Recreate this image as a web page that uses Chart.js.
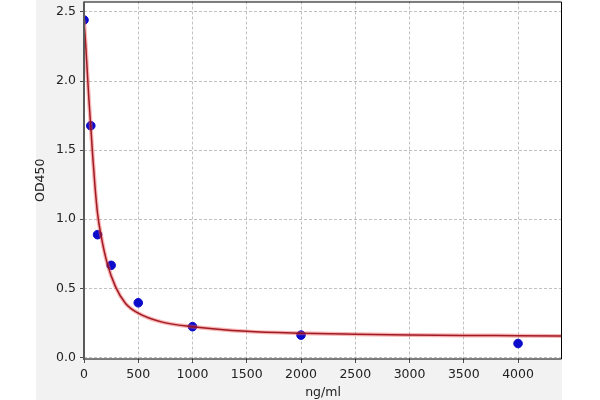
<!DOCTYPE html>
<html>
<head>
<meta charset="utf-8">
<script src="https://cdn.jsdelivr.net/npm/chart.js@4/dist/chart.umd.min.js"></script>
<style>
    html, body { margin: 0; padding: 0; background: #fff; }
    #wrap { width: 600px; height: 400px; }
</style>
</head>
<body>
<div id="wrap"><canvas id="chart" width="600" height="400"></canvas></div>
<script>
// Standards
const concentrations = [0, 62.5, 125, 250, 500, 1000, 2000, 4000];
const odValues = [2.442, 1.677, 0.888, 0.666, 0.395, 0.222, 0.161, 0.100];

// Fitted curve, points
const curveX = [0, 15, 30, 45, 62.5, 80, 100, 125, 160, 214, 291, 383, 500, 721, 1000, 1500, 2000, 2500, 3000, 3500, 4000, 4400];
const curveY = [2.44, 2.27, 2.07, 1.87, 1.67, 1.46, 1.25, 1.04, 0.87, 0.68, 0.51, 0.39, 0.32, 0.255, 0.222, 0.188, 0.174, 0.167, 0.162, 0.159, 0.157, 0.155];

// Axis ticks
const xTicks = [0, 500, 1000, 1500, 2000, 2500, 3000, 3500, 4000];
const yTicks = [0, 0.5, 1.0, 1.5, 2.0, 2.5];

const toPoints = (xs, ys) => xs.map((x, i) => ({ x: x, y: ys[i] }));

const FONT = 'DejaVu Sans';
const GRID = '#b0b0b0';

// Figure background + frame
const framePlugin = {
    id: 'frame',
    beforeDraw(chart) {
        const { ctx, chartArea: a } = chart;
        ctx.save();
        ctx.fillStyle = '#ffffff';
        ctx.fillRect(0, 0, chart.width, chart.height);
        ctx.fillStyle = '#f2f2f2';
        ctx.fillRect(36, 0, a.right - 36, chart.height);
        ctx.fillStyle = '#ffffff';
        ctx.fillRect(a.left, a.top, a.right - a.left, a.bottom - a.top);
        ctx.restore();
    },
    afterDraw(chart) {
        const { ctx, chartArea: a } = chart;
        ctx.save();
        ctx.strokeStyle = '#000';
        ctx.lineWidth = 1;
        ctx.beginPath();
        ctx.moveTo(a.left, a.top + 0.5);
        ctx.lineTo(a.right - 0.5, a.top + 0.5);
        ctx.lineTo(a.right - 0.5, a.bottom);
        ctx.lineTo(a.left, a.bottom);
        ctx.stroke();
        ctx.strokeStyle = '#5a5a5a';
        ctx.lineWidth = 2;
        ctx.beginPath();
        ctx.moveTo(a.left, a.top);
        ctx.lineTo(a.left, a.bottom + 1);
        ctx.stroke();
        ctx.restore();
    }
};

new Chart(document.getElementById('chart'), {
    type: 'scatter',
    data: {
        datasets: [{
            // thin dark-red core of the fit
            data: toPoints(curveX, curveY),
            showLine: true,
            borderColor: 'rgba(150, 10, 20, 0.9)',
            borderWidth: 1.5,
            pointRadius: 0,
            cubicInterpolationMode: 'monotone',
            order: 0
        }, {
            // pink halo around the fit
            data: toPoints(curveX, curveY),
            showLine: true,
            borderColor: 'rgba(240, 90, 90, 0.45)',
            borderWidth: 4,
            pointRadius: 0,
            cubicInterpolationMode: 'monotone',
            order: 1
        }, {
            data: toPoints(concentrations, odValues),
            backgroundColor: '#0b0bcc',
            borderColor: '#0b0bcc',
            pointRadius: 4.3,
            order: 2
        }]
    },
    options: {
        responsive: false,
        animation: false,
        layout: { autoPadding: false, padding: { left: 0, top: 1.5, right: 38, bottom: 0 } },
        plugins: {
            legend: { display: false },
            tooltip: { enabled: false }
        },
        scales: {
            x: {
                type: 'linear',
                min: 0,
                max: 4405,
                afterBuildTicks: s => { s.ticks = xTicks.map(v => ({ value: v })); },
                afterFit: s => { s.height = 41; s.paddingLeft = 0; s.paddingRight = 0; },
                grid: { color: GRID, lineWidth: 0.8, tickColor: '#222', tickLength: 4 },
                border: { display: false, dash: [3, 2] },
                ticks: {
                    color: '#222',
                    padding: 4,
                    maxRotation: 0,
                    font: { family: FONT, size: 12.5 },
                    callback: v => String(v)
                },
                title: {
                    display: true,
                    text: 'ng/ml',
                    color: '#222',
                    padding: { top: 0, bottom: 0 },
                    font: { family: FONT, size: 12.5 }
                }
            },
            y: {
                type: 'linear',
                min: -0.012,
                max: 2.576,
                afterBuildTicks: s => { s.ticks = yTicks.map(v => ({ value: v })); },
                afterFit: s => { s.width = 84; s.paddingTop = 0; s.paddingBottom = 0; },
                grid: { color: GRID, lineWidth: 0.8, tickColor: '#222', tickLength: 4 },
                border: { display: false, dash: [3, 2] },
                ticks: {
                    color: '#222',
                    padding: 4,
                    font: { family: FONT, size: 12.5 },
                    callback: v => v.toFixed(1)
                },
                title: {
                    display: true,
                    text: 'OD450',
                    color: '#222',
                    padding: { top: 33, bottom: 0 },
                    font: { family: FONT, size: 12.5 }
                }
            }
        }
    },
    plugins: [framePlugin]
});
</script>
</body>
</html>
